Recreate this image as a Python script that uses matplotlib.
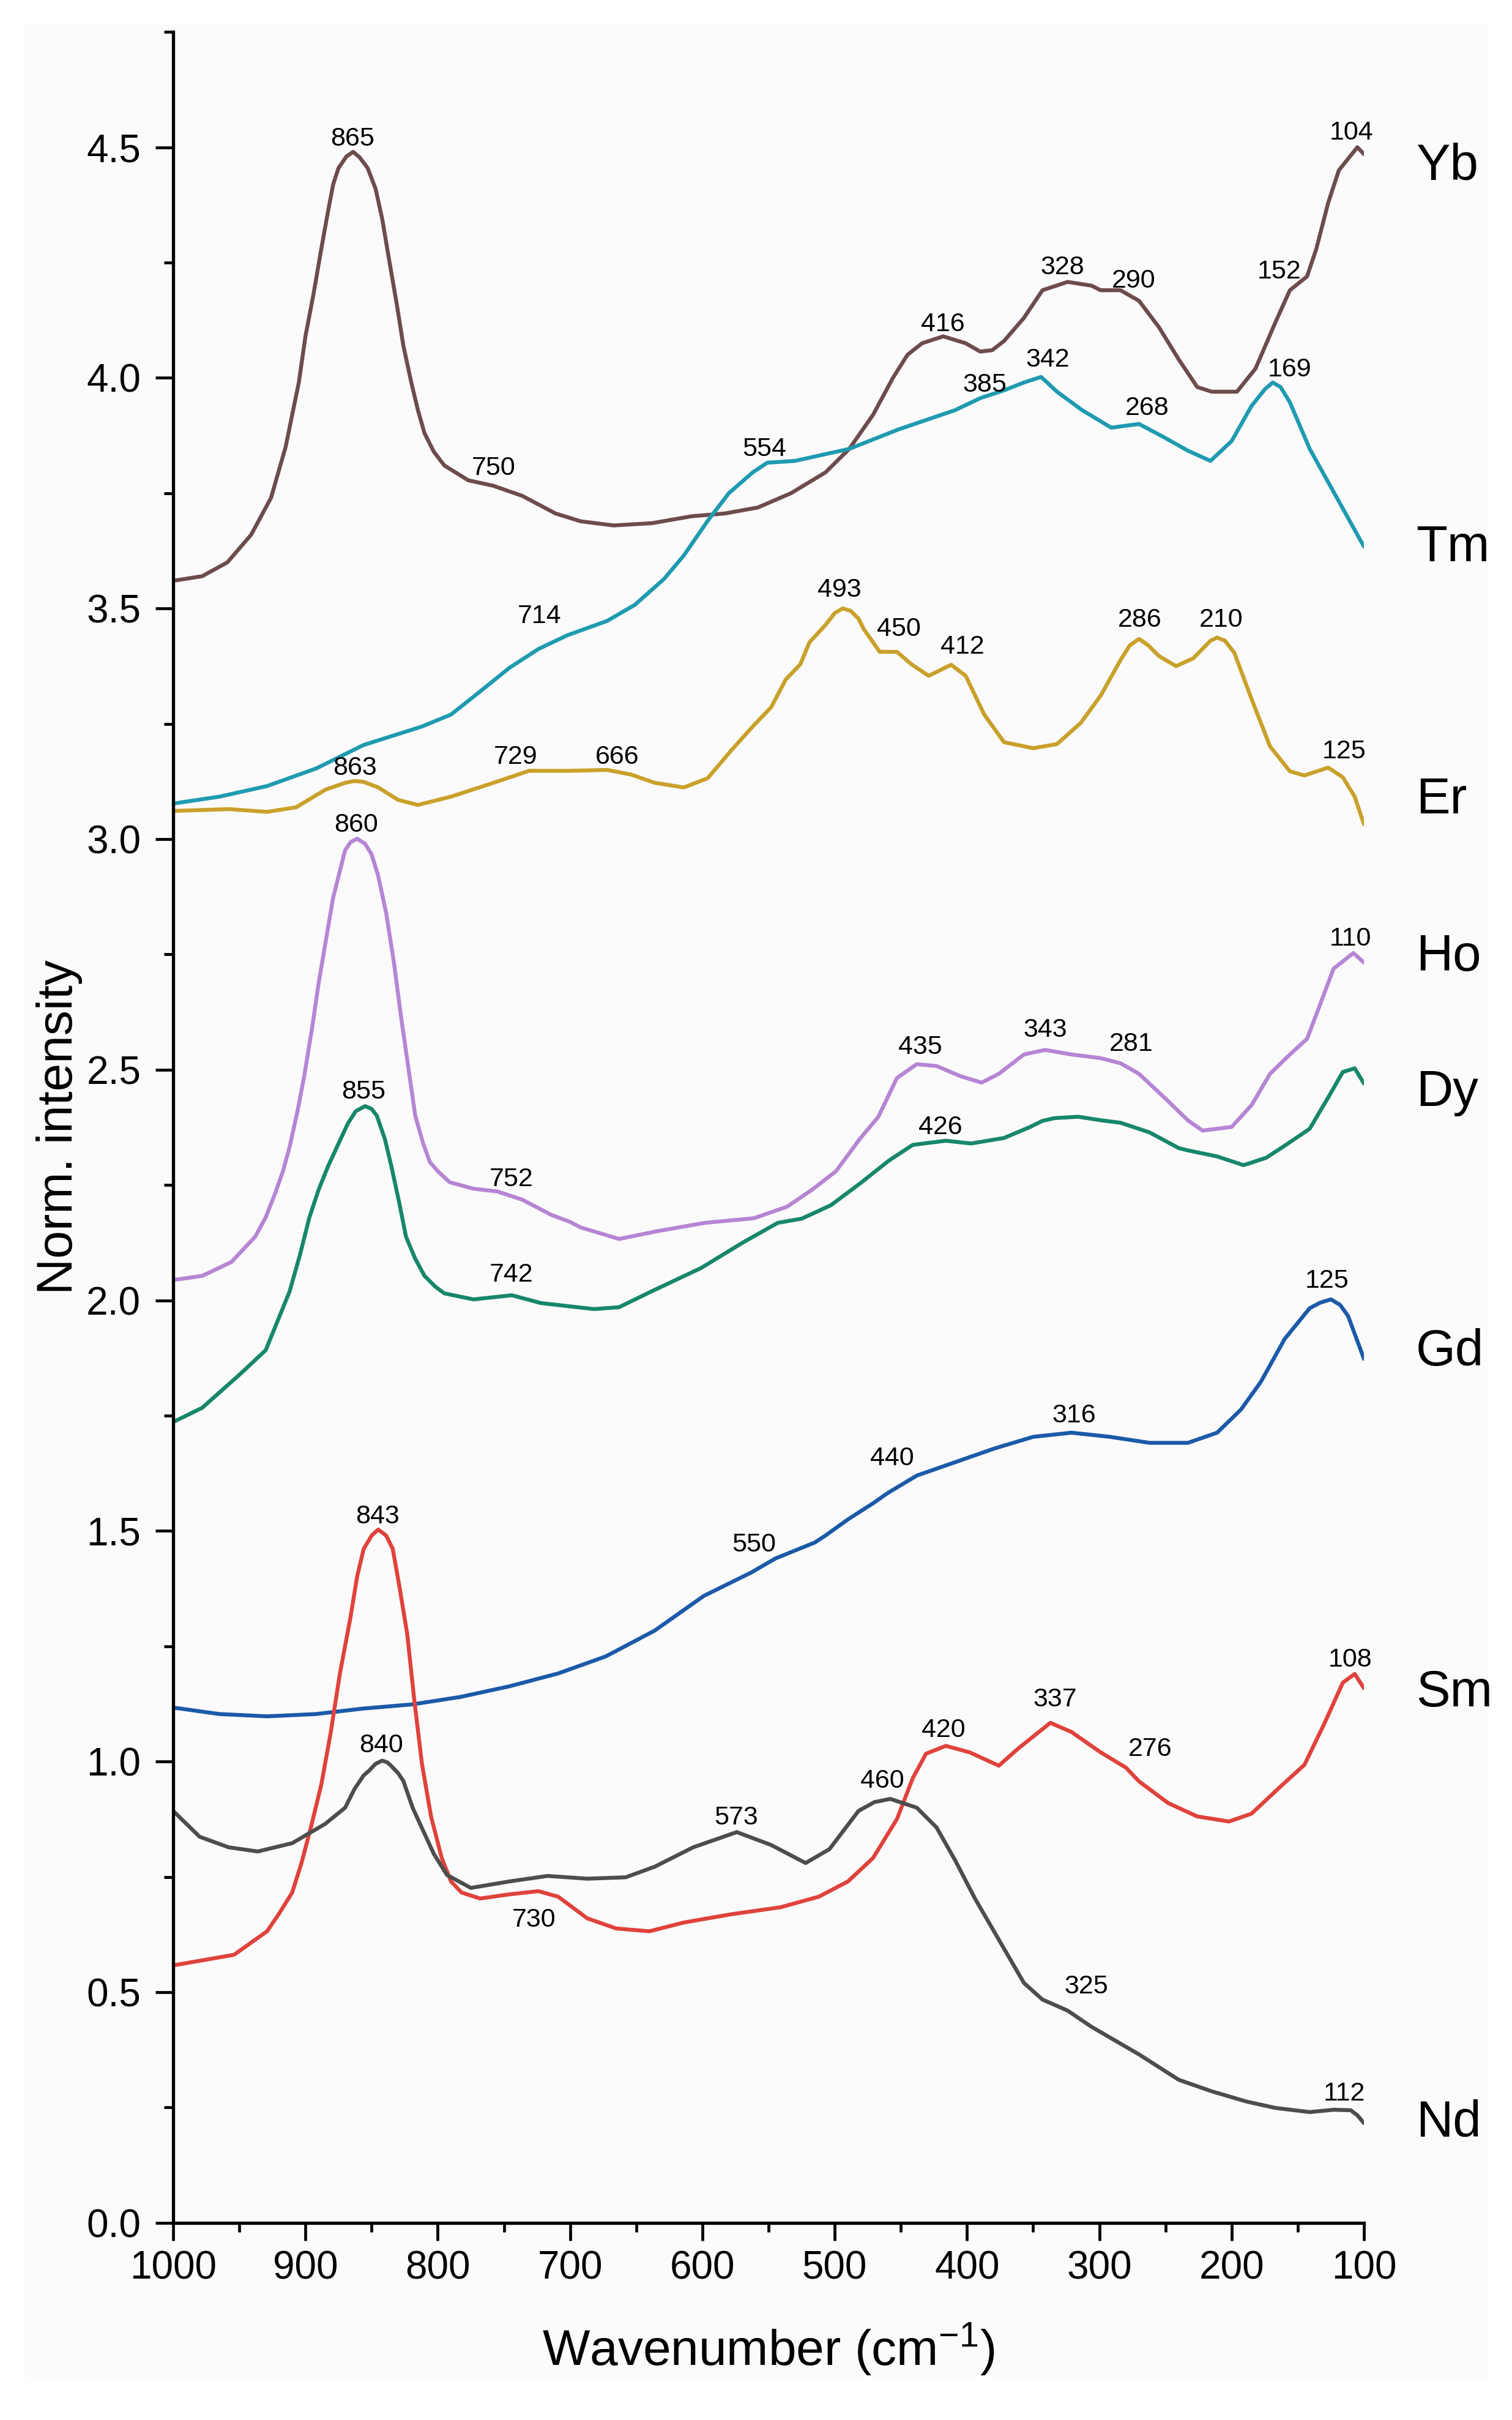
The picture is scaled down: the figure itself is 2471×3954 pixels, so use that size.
"""
Far-IR spectra of the lanthanide series, stacked with offsets
"""
import typing as t

import matplotlib.pyplot as plt
from matplotlib.axes import Axes
from matplotlib.patches import Rectangle
from matplotlib.ticker import FormatStrFormatter, MultipleLocator

# --- spectra (wavenumber in cm-1, normalised + offset intensity) ---
yb_wn = [1000, 978, 959, 941, 926, 915, 905, 900, 894, 888, 883, 879, 875, 869, 864, 859, 853, 847, 842,
         837, 831, 826, 820, 815, 810, 803, 795, 777, 758, 736, 711, 692, 667, 638, 608, 583, 558, 533,
         507, 489, 471, 456, 445, 434, 418, 401, 390, 381, 372, 357, 343, 324, 306, 299, 284, 270, 255,
         240, 226, 215, 196, 182, 167, 156, 143, 136, 127, 119, 105, 100]
yb_val = [3.56, 3.57, 3.60, 3.66, 3.74, 3.85, 3.99, 4.09, 4.18, 4.28, 4.36, 4.42, 4.455, 4.48, 4.49,
          4.478, 4.455, 4.41, 4.345, 4.26, 4.16, 4.07, 3.99, 3.93, 3.88, 3.84, 3.81, 3.778, 3.766,
          3.744, 3.706, 3.689, 3.68, 3.685, 3.70, 3.706, 3.719, 3.75, 3.795, 3.846, 3.92, 4.00, 4.05,
          4.075, 4.09, 4.075, 4.057, 4.06, 4.08, 4.13, 4.19, 4.208, 4.20, 4.19, 4.19, 4.167, 4.11,
          4.04, 3.98, 3.97, 3.97, 4.02, 4.12, 4.19, 4.22, 4.28, 4.38, 4.45, 4.50, 4.485]

tm_wn = [1000, 965, 929, 892, 856, 812, 790, 768, 746, 724, 702, 672, 651, 629, 614, 596, 580, 562, 551,
         530, 489, 452, 409, 390, 372, 357, 344, 332, 313, 291, 270, 251, 233, 216, 200, 185, 175, 169,
         163, 156, 141, 123, 100]
tm_val = [3.077, 3.092, 3.115, 3.153, 3.204, 3.244, 3.27, 3.32, 3.371, 3.412, 3.442, 3.473, 3.508,
          3.564, 3.615, 3.69, 3.75, 3.795, 3.816, 3.82, 3.846, 3.888, 3.93, 3.956, 3.973, 3.99, 4.002,
          3.97, 3.93, 3.892, 3.90, 3.871, 3.842, 3.82, 3.863, 3.939, 3.975, 3.99, 3.98, 3.947, 3.846,
          3.753, 3.634]

er_wn = [1000, 958, 929, 907, 885, 870, 863, 856, 845, 830, 815, 790, 760, 731, 702, 672, 654, 636, 614,
         596, 578, 562, 548, 537, 526, 519, 507, 500, 494, 488, 482, 478, 466, 453, 442, 429, 412, 401,
         387, 372, 350, 332, 314, 299, 284, 277, 270, 263, 255, 242, 229, 216, 211, 205, 198, 185, 171,
         156, 145, 127, 116, 107, 100]
er_val = [3.061, 3.065, 3.059, 3.069, 3.107, 3.122, 3.126, 3.124, 3.112, 3.085, 3.074, 3.092, 3.12,
          3.148, 3.148, 3.15, 3.14, 3.122, 3.112, 3.132, 3.193, 3.244, 3.286, 3.346, 3.379, 3.427,
          3.464, 3.49, 3.50, 3.495, 3.478, 3.455, 3.406, 3.406, 3.379, 3.354, 3.378, 3.354, 3.27,
          3.21, 3.197, 3.206, 3.252, 3.311, 3.388, 3.42, 3.434, 3.42, 3.397, 3.375, 3.392, 3.43,
          3.437, 3.43, 3.404, 3.304, 3.201, 3.147, 3.138, 3.155, 3.134, 3.092, 3.032]

ho_wn = [1000, 978, 956, 938, 930, 923, 917, 912, 906, 901, 895, 890, 884, 879, 870, 866, 861, 855, 850,
         845, 839, 833, 828, 822, 817, 811, 806, 800, 791, 773, 755, 736, 714, 700, 692, 671, 663, 634,
         598, 561, 536, 517, 499, 481, 467, 453, 438, 423, 405, 389, 376, 357, 341, 321, 299, 284, 270,
         251, 233, 222, 200, 185, 171, 156, 143, 134, 123, 108, 100]
ho_val = [2.044, 2.053, 2.083, 2.138, 2.18, 2.231, 2.28, 2.332, 2.41, 2.485, 2.59, 2.688, 2.79, 2.874,
          2.976, 2.993, 3.001, 2.99, 2.967, 2.92, 2.84, 2.73, 2.62, 2.50, 2.40, 2.34, 2.30, 2.28,
          2.256, 2.242, 2.236, 2.218, 2.185, 2.17, 2.158, 2.14, 2.133, 2.15, 2.168, 2.178, 2.203,
          2.24, 2.28, 2.35, 2.398, 2.482, 2.512, 2.508, 2.486, 2.472, 2.491, 2.533, 2.543, 2.533,
          2.525, 2.514, 2.491, 2.44, 2.39, 2.368, 2.376, 2.423, 2.491, 2.533, 2.567, 2.635, 2.719,
          2.753, 2.732]

dy_wn = [1000, 978, 949, 930, 912, 904, 897, 890, 883, 875, 868, 862, 855, 850, 846, 840, 835, 829, 824,
         817, 810, 802, 795, 773, 744, 722, 682, 663, 638, 601, 569, 543, 525, 503, 481, 459, 441, 416,
         397, 372, 353, 343, 334, 316, 298, 284, 262, 240, 233, 211, 191, 174, 160, 141, 127, 116, 107,
         100]
dy_val = [1.736, 1.767, 1.841, 1.892, 2.019, 2.10, 2.18, 2.24, 2.29, 2.34, 2.383, 2.41, 2.421, 2.415,
          2.40, 2.35, 2.29, 2.21, 2.138, 2.09, 2.053, 2.03, 2.015, 2.002, 2.011, 1.994, 1.981, 1.985,
          2.02, 2.07, 2.126, 2.168, 2.177, 2.206, 2.253, 2.303, 2.337, 2.346, 2.34, 2.352, 2.375,
          2.389, 2.395, 2.398, 2.39, 2.385, 2.364, 2.33, 2.325, 2.312, 2.293, 2.309, 2.335, 2.372,
          2.44, 2.495, 2.503, 2.47]

gd_wn = [1000, 965, 929, 892, 856, 819, 783, 746, 709, 673, 636, 599, 563, 545, 515, 507, 490, 471, 460,
         438, 409, 379, 350, 321, 292, 262, 233, 211, 193, 178, 160, 141, 133, 125, 118, 112, 100]
gd_val = [1.117, 1.103, 1.098, 1.103, 1.115, 1.124, 1.14, 1.163, 1.191, 1.228, 1.284, 1.359, 1.41,
          1.44, 1.475, 1.49, 1.525, 1.56, 1.582, 1.62, 1.649, 1.679, 1.704, 1.713, 1.704, 1.691,
          1.691, 1.713, 1.763, 1.823, 1.916, 1.983, 1.995, 2.002, 1.99, 1.966, 1.873]

sm_wn = [1000, 954, 929, 920, 910, 903, 896, 888, 881, 874, 866, 861, 856, 852, 850, 845, 839, 834, 829,
         823, 818, 812, 805, 797, 790, 782, 768, 746, 724, 709, 687, 665, 640, 614, 578, 541, 512, 490,
         471, 453, 441, 431, 416, 398, 376, 361, 337, 321, 299, 280, 270, 248, 226, 202, 185, 163, 145,
         130, 116, 107, 100]
sm_val = [0.558, 0.581, 0.632, 0.67, 0.716, 0.78, 0.856, 0.95, 1.061, 1.19, 1.312, 1.40, 1.461, 1.48,
          1.49, 1.503, 1.49, 1.461, 1.38, 1.275, 1.14, 0.996, 0.88, 0.791, 0.74, 0.716, 0.703, 0.712,
          0.719, 0.707, 0.66, 0.638, 0.632, 0.651, 0.669, 0.684, 0.707, 0.74, 0.791, 0.875, 0.964,
          1.017, 1.034, 1.02, 0.991, 1.029, 1.084, 1.064, 1.02, 0.987, 0.957, 0.91, 0.881, 0.87,
          0.887, 0.946, 0.993, 1.082, 1.171, 1.19, 1.159]

nd_wn = [1000, 980, 958, 936, 910, 885, 870, 863, 856, 852, 847, 842, 838, 835, 830, 826, 819, 812, 803,
         793, 775, 746, 717, 687, 658, 636, 607, 574, 548, 522, 504, 482, 470, 458, 438, 423, 409, 394,
         376, 357, 343, 324, 306, 270, 240, 215, 189, 167, 141, 123, 110, 105, 100]
nd_val = [0.893, 0.837, 0.814, 0.805, 0.823, 0.865, 0.90, 0.94, 0.97, 0.98, 0.995, 1.002, 0.998, 0.99,
          0.975, 0.958, 0.90, 0.856, 0.80, 0.754, 0.726, 0.74, 0.752, 0.746, 0.749, 0.772, 0.814,
          0.847, 0.819, 0.78, 0.81, 0.893, 0.912, 0.919, 0.9, 0.857, 0.786, 0.703, 0.614, 0.52, 0.484,
          0.46, 0.425, 0.365, 0.31, 0.285, 0.263, 0.249, 0.24, 0.245, 0.244, 0.233, 0.216]

# --- peak labels: (text, wavenumber, intensity of label centre) ---
yb_peaks = [("865", 864.5, 4.524), ("750", 757.6, 3.809), ("416", 418.5, 4.122), ("328", 327.9, 4.245),
            ("290", 274.2, 4.216), ("152", 164.1, 4.235), ("104", 109.5, 4.537)]
tm_peaks = [("714", 723, 3.488), ("554", 553, 3.85), ("385", 386.6, 3.99), ("342", 339, 4.045),
            ("268", 264, 3.939), ("169", 156, 4.023)]
er_peaks = [("863", 862.8, 3.159), ("729", 741, 3.183), ("666", 664.6, 3.183), ("493", 496.3, 3.546),
            ("450", 451.4, 3.46), ("412", 403.3, 3.422), ("286", 269.5, 3.481), ("210", 208, 3.481),
            ("125", 115, 3.195)]
ho_peaks = [("860", 861.7, 3.036), ("752", 744.6, 2.268), ("435", 435.3, 2.554), ("343", 340.8, 2.592),
            ("281", 276, 2.561), ("110", 110.4, 2.789)]
dy_peaks = [("855", 856.3, 2.457), ("742", 744.3, 2.06), ("426", 420.3, 2.381)]
gd_peaks = [("550", 561, 1.475), ("440", 456.5, 1.662), ("316", 319, 1.755), ("125", 127.8, 2.047)]
sm_peaks = [("843", 845.3, 1.537), ("730", 727.5, 0.662), ("420", 417.8, 1.073), ("337", 333.7, 1.139),
            ("276", 261.4, 1.032), ("108", 110.2, 1.226)]
nd_peaks = [("840", 842.7, 1.04), ("573", 574.6, 0.884), ("460", 464.3, 0.963), ("325", 309.8, 0.517),
            ("112", 115, 0.285)]

# element name and where its label sits (cap-centre height)
names = ["Yb", "Tm", "Er", "Ho", "Dy", "Gd", "Sm", "Nd"]
name_y = [4.47, 3.643, 3.096, 2.755, 2.461, 1.899, 1.16, 0.227]

FONT = "Liberation Sans"


def main():
    plt.rcParams["font.family"] = [FONT, "DejaVu Sans"]
    plt.rcParams["mathtext.default"] = "regular"

    fig = plt.figure(figsize=(24.71, 39.54), dpi=100)
    fig.patch.set_facecolor("white")
    # faint grey panel behind the plot, like the scanned figure
    fig.patches.append(
        Rectangle((40 / 2471, 1 - 3884 / 3954), (2433 - 40) / 2471, (3884 - 41) / 3954,
                  transform=fig.transFigure, facecolor="#fbfbfb", edgecolor="none", zorder=-10)
    )

    ax = fig.add_axes([0.1145, 0.0815, 0.7876, 0.9053])
    ax.set_facecolor("none")
    ax.set_zorder(1)

    spectra = [
        (yb_wn, yb_val, yb_peaks, "#6d4c4c"),
        (tm_wn, tm_val, tm_peaks, "#1f9bb0"),
        (er_wn, er_val, er_peaks, "#c9a12a"),
        (ho_wn, ho_val, ho_peaks, "#b685d3"),
        (dy_wn, dy_val, dy_peaks, "#17876a"),
        (gd_wn, gd_val, gd_peaks, "#1b5aa8"),
        (sm_wn, sm_val, sm_peaks, "#e0423c"),
        (nd_wn, nd_val, nd_peaks, "#4d4d4d"),
    ]
    for wn, val, peaks, color in spectra:
        plot_spectrum(ax=ax, wn=wn, val=val, peaks=peaks, color=color)

    trans = ax.get_yaxis_transform()
    for name, y in zip(names, name_y):
        ax.text(1.0437, y - 0.04, name, transform=trans, fontsize=60, ha="left", va="baseline",
                clip_on=False)

    ax.set_xlim(1000, 100)
    ax.set_ylim(0, 4.75)
    ax.xaxis.set_major_locator(MultipleLocator(100))
    ax.xaxis.set_minor_locator(MultipleLocator(50))
    ax.yaxis.set_major_locator(MultipleLocator(0.5))
    ax.yaxis.set_minor_locator(MultipleLocator(0.25))
    ax.yaxis.set_major_formatter(FormatStrFormatter("%.1f"))

    for side in ["top", "right"]:
        ax.spines[side].set_visible(False)
    for side in ["left", "bottom"]:
        ax.spines[side].set_linewidth(3.8)

    ax.tick_params(which="major", direction="out", length=21, width=3.4, labelsize=46)
    ax.tick_params(which="minor", direction="out", length=10.5, width=3.4)
    ax.tick_params(axis="x", which="major", pad=11)
    ax.tick_params(axis="y", which="major", pad=17)

    ax.set_xlabel("Wavenumber (cm$^{-1}$)", fontsize=59)
    ax.set_ylabel("Norm. intensity", fontsize=59)
    ax.xaxis.set_label_coords(0.5, -0.045)
    ax.yaxis.set_label_coords(-0.076, 0.5)

    fig.savefig("out.png", dpi=100)


def plot_spectrum(
    *,
    ax: Axes,
    wn: t.List[float],
    val: t.List[float],
    peaks: t.List[t.Tuple[str, float, float]],
    color: str,
):
    ax.plot(wn, val, color=color, linewidth=4.6, solid_joinstyle="round", solid_capstyle="round",
            zorder=2)
    for label, x, y in peaks:
        ax.text(x, y - 0.02, label, fontsize=31, ha="center", va="baseline", zorder=3)


if __name__ == "__main__":
    main()
